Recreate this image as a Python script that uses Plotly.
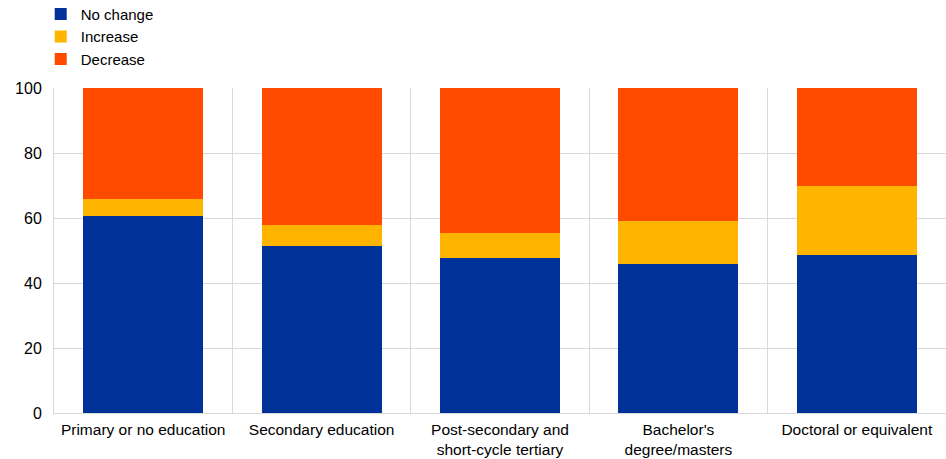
import plotly.graph_objects as go

categories = ["Primary or no education", "Secondary education",
              "Post-secondary and<br>short-cycle tertiary",
              "Bachelor's<br>degree/masters", "Doctoral or equivalent"]
no_change = [60.6, 51.5, 47.8, 45.7, 48.7]
increase = [5.2, 6.3, 7.7, 13.3, 21.2]
decrease = [round(100 - a - b, 1) for a, b in zip(no_change, increase)]

series_names = ["No change", "Increase", "Decrease"]
series_colors = ["#003299", "#FFB400", "#FF4B00"]
series_values = [no_change, increase, decrease]

fig = go.Figure()
for name, color, vals in zip(series_names, series_colors, series_values):
    fig.add_trace(go.Bar(x=categories, y=vals, name=name,
                         marker=dict(color=color, line=dict(width=0))))

font = dict(family="Liberation Sans, Arial, sans-serif", size=16, color="#000000")
legend_font = dict(font, size=15)
xtick_font = dict(font, size=15.5)
fig.update_layout(
    width=946, height=459,
    barmode="stack", bargap=0.327,
    plot_bgcolor="white", paper_bgcolor="white",
    margin=dict(l=54, r=0, t=88, b=46, autoexpand=False),
    font=font,
    legend=dict(x=-0.0149, y=1.278,
                xanchor="left", yanchor="top", traceorder="normal",
                font=legend_font, bgcolor="rgba(0,0,0,0)", tracegroupgap=0),
    xaxis=dict(type="category", tickson="boundaries", showgrid=True,
               gridcolor="#d9d9d9", gridwidth=1, ticks="", showline=True,
               linecolor="#d9d9d9", linewidth=1, tickfont=xtick_font,
               tickangle=0, automargin=False, ticklabelstandoff=2),
    yaxis=dict(range=[0, 100], dtick=20, showgrid=True, gridcolor="#d9d9d9",
               gridwidth=1, zeroline=False, showline=True, linecolor="#d9d9d9",
               ticks="", tickfont=font, ticklabelstandoff=8, automargin=False),
)
fig.write_html("out.html", config={"displayModeBar": False},
               post_script="document.body.style.margin='0px';")
